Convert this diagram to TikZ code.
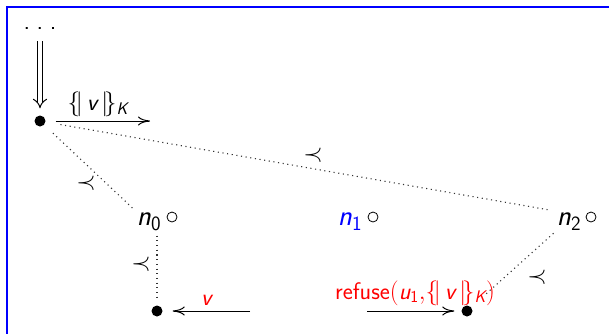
\documentclass[tikz,border=0pt]{standalone}
\usepackage{amstext}
\usetikzlibrary{arrows.meta}
\newcommand{\sv}[1]{\textsl{#1}}
\newcommand{\su}[1]{\textsf{#1}}
\begin{document}
\begin{tikzpicture}[x=1pt,y=-1pt,
  big/.style={font=\sffamily\fontsize{29}{34}\selectfont, inner sep=1pt},
  lab/.style={font=\sffamily\fontsize{24}{28}\selectfont, inner sep=1pt},
  bull/.style={circle, fill=black, inner sep=0pt, minimum size=11pt},
  circ/.style={circle, draw=black, line width=0.8pt, inner sep=0pt, minimum size=10pt},
  arr/.style={line width=1pt, -{To[length=12pt,width=9pt]}},
  dotl/.style={line width=1.1pt, dash pattern=on 1.1pt off 3.6pt, black!80},
  dbl/.style={double distance=4pt, line width=1pt, -{Implies[length=9pt,width=14pt]}}
]
\useasboundingbox (0,0) rectangle (609,333);
\draw[blue, line width=2pt] (6.5,340) -- (6.5,6.5) -- (615,6.5);

% top
\node[big, anchor=base, font=\sffamily\fontsize{25}{30}\selectfont] (dots) at (40,29) {.\hspace{6.5pt}.\hspace{6.5pt}.};
\node[bull] (b0) at (40,121) {};
\draw[dbl, shorten <=11pt, shorten >=7pt] (dots) -- (b0);
\coordinate (e1) at (150,121);
\draw[arr, shorten <=10pt] (b0) -- (e1) node[lab, midway, above=3pt] (l1) {$\{\!|\,\sv{v}\,|\!\}_{\sv{K}}$};

% principals
\node[big, anchor=base] (n0) at (149,225) {$\sv{n}_{\su{0}}$};
\node[circ] (c0) at (172,217) {};
\node[big, anchor=base, text=blue] (n1) at (350,225) {$\sv{n}_{\su{1}}$};
\node[circ] (c1) at (373,217) {};
\node[big, anchor=base] (n2) at (569,225) {$\sv{n}_{\su{2}}$};
\node[circ] (c2) at (591,217) {};

% bottom bullets
\node[bull] (b1) at (157,311) {};
\node[bull] (b2) at (467,311) {};

% dotted connectors
\draw[dotl, shorten <=12pt, shorten >=2pt] (b0) -- (n0.north west);
\draw[dotl, shorten <=15pt, shorten >=6pt] (b0) -- (n2.north west);
\draw[dotl, shorten <=4pt, shorten >=6pt] (n0.south -| b1) -- (b1);
\draw[dotl, shorten <=3pt, shorten >=20pt] (n2.south west) -- (b2);

% prec labels
\node[lab] (p1) at (86,183) {$\prec$};
\node[lab] (p2) at (313,155) {$\prec$};
\node[lab] (p3) at (141,264) {$\prec$};
\node[lab] (p4) at (537,277) {$\prec$};

% bottom arrows
\coordinate (s1) at (250,311);
\draw[arr, shorten >=10pt] (s1) -- (b1) node[lab, midway, above=4pt, text=red] (l2) {$\sv{v}$};
\coordinate (s2) at (367,311);
\draw[arr, shorten >=7pt] (s2) -- (b2);
\node[lab, text=red] (l3) at (415,293) {refuse$(\sv{u}_{\su{1}}{,}\{\!|\,\sv{v}\,|\!\}_{\sv{K}})$};
\end{tikzpicture}
\end{document}
